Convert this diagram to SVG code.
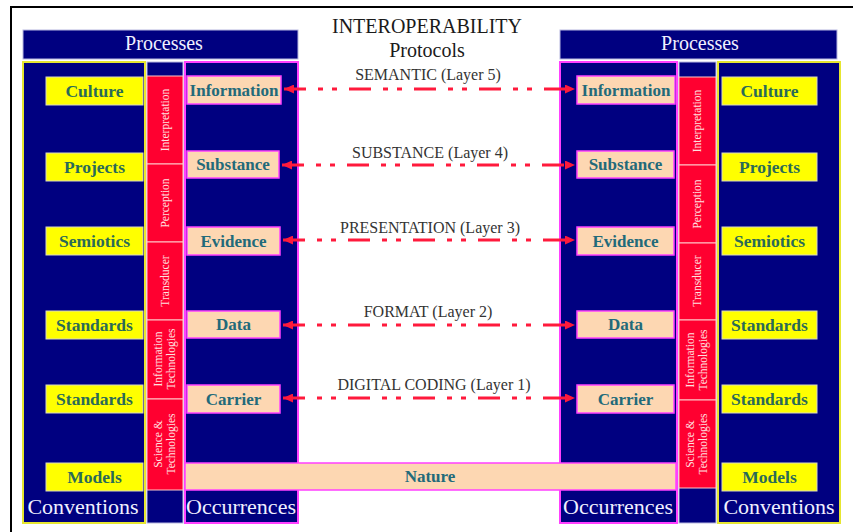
<svg xmlns="http://www.w3.org/2000/svg" width="853" height="532" viewBox="0 0 853 532">
<defs>
<style>
.nav{fill:#000080;stroke:#b8b8e0;stroke-width:1}
.conv{fill:#000080;stroke:#e6e630;stroke-width:2}
.occ{fill:#000080;stroke:#ff40ff;stroke-width:2}
.red{fill:#ff0030;stroke:#ffc8c8;stroke-width:1}
.yel{fill:#ffff00;stroke:#d8d8c0;stroke-width:1}
.pch{fill:#fdd7b2;stroke:#ff40ff;stroke-width:1.5}
.hd{font-family:"Liberation Serif",serif;font-size:20px;fill:#f0f0ff;text-anchor:middle}
.ft{font-size:22px}
.yt{font-family:"Liberation Serif",serif;font-size:17.5px;font-weight:bold;fill:#2a6a58;text-anchor:middle}
.pt{font-family:"Liberation Serif",serif;font-size:17px;font-weight:bold;fill:#226a7a;text-anchor:middle}
.rt{font-family:"Liberation Serif",serif;font-size:11.5px;fill:#ffe0e0;text-anchor:middle}
.lt{font-family:"Liberation Serif",serif;font-size:16px;fill:#333;text-anchor:middle}
.tt{font-family:"Liberation Serif",serif;font-size:20px;fill:#1a1a1a;text-anchor:middle}
.arr{stroke:#ff1a3c;stroke-width:3;fill:none;stroke-dasharray:22 12 5 9 5 12;marker-start:url(#ah);marker-end:url(#ah)}
</style>
<marker id="ah" markerUnits="userSpaceOnUse" markerWidth="10" markerHeight="9" refX="10" refY="4.5" orient="auto-start-reverse">
<path d="M0,0 L10,4.5 L0,9 z" fill="#ff1a3c"/>
</marker>
</defs>
<rect width="853" height="532" fill="#ffffff"/>
<path d="M11,532 L11,7 L853,7" fill="none" stroke="#000" stroke-width="2"/>

<g id="title">
<text class="tt" x="427" y="33">INTEROPERABILITY</text>
<text class="tt" x="427" y="56.5">Protocols</text>
</g>

<g id="left-processes">
<rect class="nav" x="23" y="30" width="275" height="29"/>
<text class="hd" x="164" y="50">Processes</text>
</g>
<g id="left-conventions">
<rect class="conv" x="23" y="62" width="122" height="461"/>
<text class="hd ft" x="83" y="514">Conventions</text>
</g>
<g id="left-strip">
<rect class="nav" x="147" y="62" width="36" height="461"/>
</g>
<g id="left-occurrences">
<rect class="occ" x="185" y="62" width="113" height="461"/>
<text class="hd ft" x="241" y="514">Occurrences</text>
</g>

<g id="right-processes">
<rect class="nav" x="560" y="30" width="277" height="29"/>
<text class="hd" x="700" y="50">Processes</text>
</g>
<g id="right-occurrences">
<rect class="occ" x="560" y="62" width="117" height="461"/>
<text class="hd ft" x="618" y="514">Occurrences</text>
</g>
<g id="right-strip">
<rect class="nav" x="679" y="62" width="37" height="461"/>
</g>
<g id="right-conventions">
<rect class="conv" x="718" y="62" width="122" height="461"/>
<text class="hd ft" x="779" y="514">Conventions</text>
</g>

<g id="left-red">
<rect class="red" x="147" y="76" width="36" height="88"/>
<text class="rt" transform="translate(169,120) rotate(-90)">Interpretation</text>
<rect class="red" x="147" y="164" width="36" height="78"/>
<text class="rt" transform="translate(169,203) rotate(-90)">Perception</text>
<rect class="red" x="147" y="242" width="36" height="78"/>
<text class="rt" transform="translate(169,281) rotate(-90)">Transducer</text>
<rect class="red" x="147" y="320" width="36" height="79"/>
<text class="rt" transform="translate(162,359) rotate(-90)">Information</text>
<text class="rt" transform="translate(175,359) rotate(-90)">Technologies</text>
<rect class="red" x="147" y="399" width="36" height="91"/>
<text class="rt" transform="translate(162,444) rotate(-90)">Science &amp;</text>
<text class="rt" transform="translate(175,444) rotate(-90)">Technologies</text>
</g>
<g id="right-red">
<rect class="red" x="679" y="77" width="37" height="88"/>
<text class="rt" transform="translate(701,121) rotate(-90)">Interpretation</text>
<rect class="red" x="679" y="165" width="37" height="78"/>
<text class="rt" transform="translate(701,204) rotate(-90)">Perception</text>
<rect class="red" x="679" y="243" width="37" height="77"/>
<text class="rt" transform="translate(701,281) rotate(-90)">Transducer</text>
<rect class="red" x="679" y="320" width="37" height="80"/>
<text class="rt" transform="translate(694,360) rotate(-90)">Information</text>
<text class="rt" transform="translate(707,360) rotate(-90)">Technologies</text>
<rect class="red" x="679" y="400" width="37" height="88"/>
<text class="rt" transform="translate(694,444) rotate(-90)">Science &amp;</text>
<text class="rt" transform="translate(707,444) rotate(-90)">Technologies</text>
</g>

<g id="l-culture"><rect class="yel" x="46" y="77" width="97" height="28"/><text class="yt" x="94.5" y="97">Culture</text></g>
<g id="l-projects"><rect class="yel" x="46" y="153" width="97" height="28"/><text class="yt" x="94.5" y="173">Projects</text></g>
<g id="l-semiotics"><rect class="yel" x="46" y="227" width="97" height="28"/><text class="yt" x="94.5" y="247">Semiotics</text></g>
<g id="l-standards1"><rect class="yel" x="46" y="311" width="97" height="28"/><text class="yt" x="94.5" y="331">Standards</text></g>
<g id="l-standards2"><rect class="yel" x="46" y="385" width="97" height="28"/><text class="yt" x="94.5" y="405">Standards</text></g>
<g id="l-models"><rect class="yel" x="46" y="463" width="97" height="28"/><text class="yt" x="94.5" y="483">Models</text></g>

<g id="r-culture"><rect class="yel" x="722" y="77" width="95" height="28"/><text class="yt" x="769.5" y="97">Culture</text></g>
<g id="r-projects"><rect class="yel" x="722" y="153" width="95" height="28"/><text class="yt" x="769.5" y="173">Projects</text></g>
<g id="r-semiotics"><rect class="yel" x="722" y="227" width="95" height="28"/><text class="yt" x="769.5" y="247">Semiotics</text></g>
<g id="r-standards1"><rect class="yel" x="722" y="311" width="95" height="28"/><text class="yt" x="769.5" y="331">Standards</text></g>
<g id="r-standards2"><rect class="yel" x="722" y="385" width="95" height="28"/><text class="yt" x="769.5" y="405">Standards</text></g>
<g id="r-models"><rect class="yel" x="722" y="463" width="95" height="28"/><text class="yt" x="769.5" y="483">Models</text></g>

<g id="l-information"><rect class="pch" x="187" y="76" width="94" height="28"/><text class="pt" x="234" y="96">Information</text></g>
<g id="l-substance"><rect class="pch" x="187" y="151" width="92" height="27"/><text class="pt" x="233" y="170">Substance</text></g>
<g id="l-evidence"><rect class="pch" x="187" y="227" width="93" height="28"/><text class="pt" x="233.5" y="247">Evidence</text></g>
<g id="l-data"><rect class="pch" x="187" y="311" width="93" height="27"/><text class="pt" x="233.5" y="330">Data</text></g>
<g id="l-carrier"><rect class="pch" x="187" y="385" width="93" height="28"/><text class="pt" x="233.5" y="405">Carrier</text></g>

<g id="r-information"><rect class="pch" x="577" y="76" width="98" height="28"/><text class="pt" x="626" y="96">Information</text></g>
<g id="r-substance"><rect class="pch" x="577" y="151" width="97" height="27"/><text class="pt" x="625.5" y="170">Substance</text></g>
<g id="r-evidence"><rect class="pch" x="577" y="227" width="97" height="28"/><text class="pt" x="625.5" y="247">Evidence</text></g>
<g id="r-data"><rect class="pch" x="577" y="311" width="97" height="27"/><text class="pt" x="625.5" y="330">Data</text></g>
<g id="r-carrier"><rect class="pch" x="577" y="385" width="97" height="28"/><text class="pt" x="625.5" y="405">Carrier</text></g>

<g id="nature"><rect class="pch" x="185" y="463" width="491" height="27" stroke-width="2"/><text class="pt" x="430" y="482">Nature</text></g>

<g id="connectors">
<line class="arr" x1="284" y1="89" x2="575" y2="89"/>
<line class="arr" x1="282" y1="165" x2="575" y2="165"/>
<line class="arr" x1="283" y1="240" x2="575" y2="240"/>
<line class="arr" x1="283" y1="325" x2="575" y2="325"/>
<line class="arr" x1="283" y1="398" x2="575" y2="398"/>
</g>
<g id="labels">
<text class="lt" x="428" y="80">SEMANTIC (Layer 5)</text>
<text class="lt" x="430" y="158">SUBSTANCE (Layer 4)</text>
<text class="lt" x="430" y="233">PRESENTATION (Layer 3)</text>
<text class="lt" x="428" y="317">FORMAT (Layer 2)</text>
<text class="lt" x="434" y="390">DIGITAL CODING (Layer 1)</text>
</g>
</svg>
